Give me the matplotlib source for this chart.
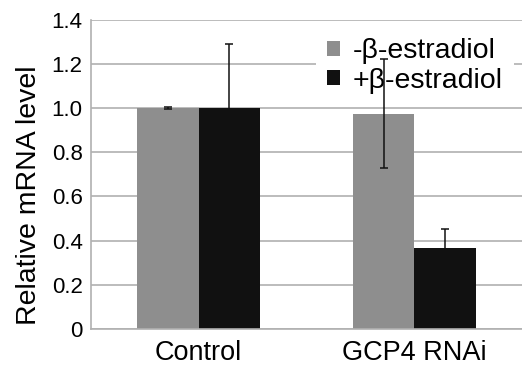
import numpy as np
import matplotlib.pyplot as plt

plt.rcParams['font.family'] = ['Liberation Sans', 'DejaVu Sans']

# data
categories = ["Control", "GCP4 RNAi"]
series_names = ["-\u03b2-estradiol", "+\u03b2-estradiol"]
minus_vals = [1.0, 0.975]
minus_err = [0.004, 0.245]
plus_vals = [1.0, 0.368]
plus_err = [0.29, 0.084]
yticks = [0, 0.2, 0.4, 0.6, 0.8, 1.0, 1.2, 1.4]
ytick_labels = ["0", "0.2", "0.4", "0.6", "0.8", "1.0", "1.2", "1.4"]

fig = plt.figure(figsize=(5.22, 3.69), dpi=100)
ax = fig.add_axes([0.1743, 0.1084, 0.8257, 0.8385])

x = np.arange(len(categories))
w = 0.285
ekw = dict(ecolor="#111111", elinewidth=1.1, capsize=2.6, capthick=1.1, zorder=3)
ax.bar(x - w / 2, minus_vals, w, yerr=minus_err, color="#8e8e8e",
       label=series_names[0], error_kw=ekw, zorder=2)
ax.bar(x + w / 2, plus_vals, w, yerr=plus_err, color="#111111",
       label=series_names[1], error_kw=ekw, zorder=2)

ax.set_xlim(-0.5, 1.5)
ax.set_ylim(0, 1.4)
ax.set_yticks(yticks)
ax.set_yticklabels(ytick_labels, fontsize=16)
ax.set_xticks(x)
ax.set_xticklabels(categories, fontsize=19.5)
ax.tick_params(axis="y", length=0, pad=6)
ax.tick_params(axis="x", length=0, pad=8)

# y label sits a bit below the axes centre in the original
fig.text(29 / 522, 1 - 195 / 369, "Relative mRNA level", rotation=90,
         ha="center", va="center", fontsize=20.5)

ax.yaxis.grid(True, color="#b0b0b0", linewidth=1.2, zorder=0)
ax.set_axisbelow(True)
for s in ["top", "right"]:
    ax.spines[s].set_visible(False)
for s in ["left", "bottom"]:
    ax.spines[s].set_color("#b0b0b0")
    ax.spines[s].set_linewidth(1.2)

leg = ax.legend(loc="upper left", bbox_to_anchor=(316 / 522, 1 - 27 / 369),
                bbox_transform=fig.transFigure, borderaxespad=0, fontsize=20.5,
                frameon=True, fancybox=False, edgecolor="none", facecolor="white",
                framealpha=1, handlelength=0.45, handleheight=0.45,
                handletextpad=0.45, labelspacing=0.12, borderpad=0.4)
leg.set_zorder(1)

fig.savefig("out.png", dpi=100)
